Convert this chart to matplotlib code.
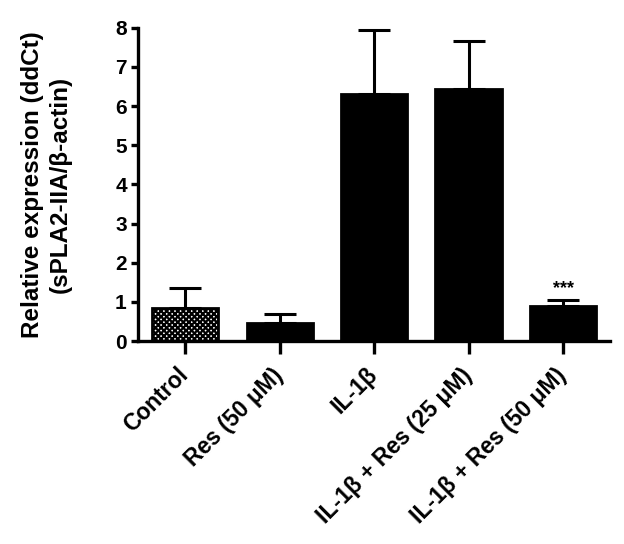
import numpy as np
import matplotlib
matplotlib.use('Agg')
import matplotlib.pyplot as plt

plt.rcParams['font.family'] = ['Liberation Sans', 'DejaVu Sans']
plt.rcParams['font.weight'] = 'bold'
plt.rcParams['hatch.linewidth'] = 1.6

groups = ['Control', 'Res (50 μM)', 'IL-1β', 'IL-1β + Res (25 μM)', 'IL-1β + Res (50 μM)']
means = [0.84, 0.47, 6.32, 6.44, 0.90]
errs = [0.51, 0.22, 1.61, 1.23, 0.15]
sig = ['', '', '', '', '***']

fig = plt.figure(figsize=(6.24, 5.44), dpi=100)
ax = fig.add_axes([0.221, 0.373, 0.757, 0.576])

x = np.arange(len(groups))
bars = ax.bar(x, means, width=0.7, color='black', edgecolor='black', linewidth=2, zorder=2)
bars[0].set_facecolor('white')
bars[0].set_hatch('xxxxxx')
ax.errorbar(x, means, yerr=[np.zeros(len(errs)), errs], fmt='none', ecolor='black',
            elinewidth=2.2, capsize=11.5, capthick=2.2, zorder=1)
for xi, m, e, s in zip(x, means, errs, sig):
    if s:
        ax.text(xi, m + e + 0.08, s, ha='center', va='bottom', fontsize=13, fontweight='bold')

ax.set_xlim(-0.5, 4.5)
ax.set_ylim(0, 8)
ax.set_yticks(range(0, 9))
ax.set_xticks(x)
ax.set_xticklabels(groups, rotation=45, ha='right', va='center', rotation_mode='anchor',
                   fontsize=16.5)
for sp in ['top', 'right']:
    ax.spines[sp].set_visible(False)
for sp in ['left', 'bottom']:
    ax.spines[sp].set_linewidth(2.4)
ax.tick_params(axis='y', width=2.4, length=5, labelsize=15, pad=3)
ax.tick_params(axis='x', width=2.4, length=9, pad=13)
ax.set_ylabel('Relative expression (ddCt)\n(sPLA2-IIA/β-actin)', fontsize=17.5,
              fontweight='bold', linespacing=1.25)
ax.yaxis.set_label_coords(-0.14, 0.5)

fig.savefig('out.png', dpi=100)
